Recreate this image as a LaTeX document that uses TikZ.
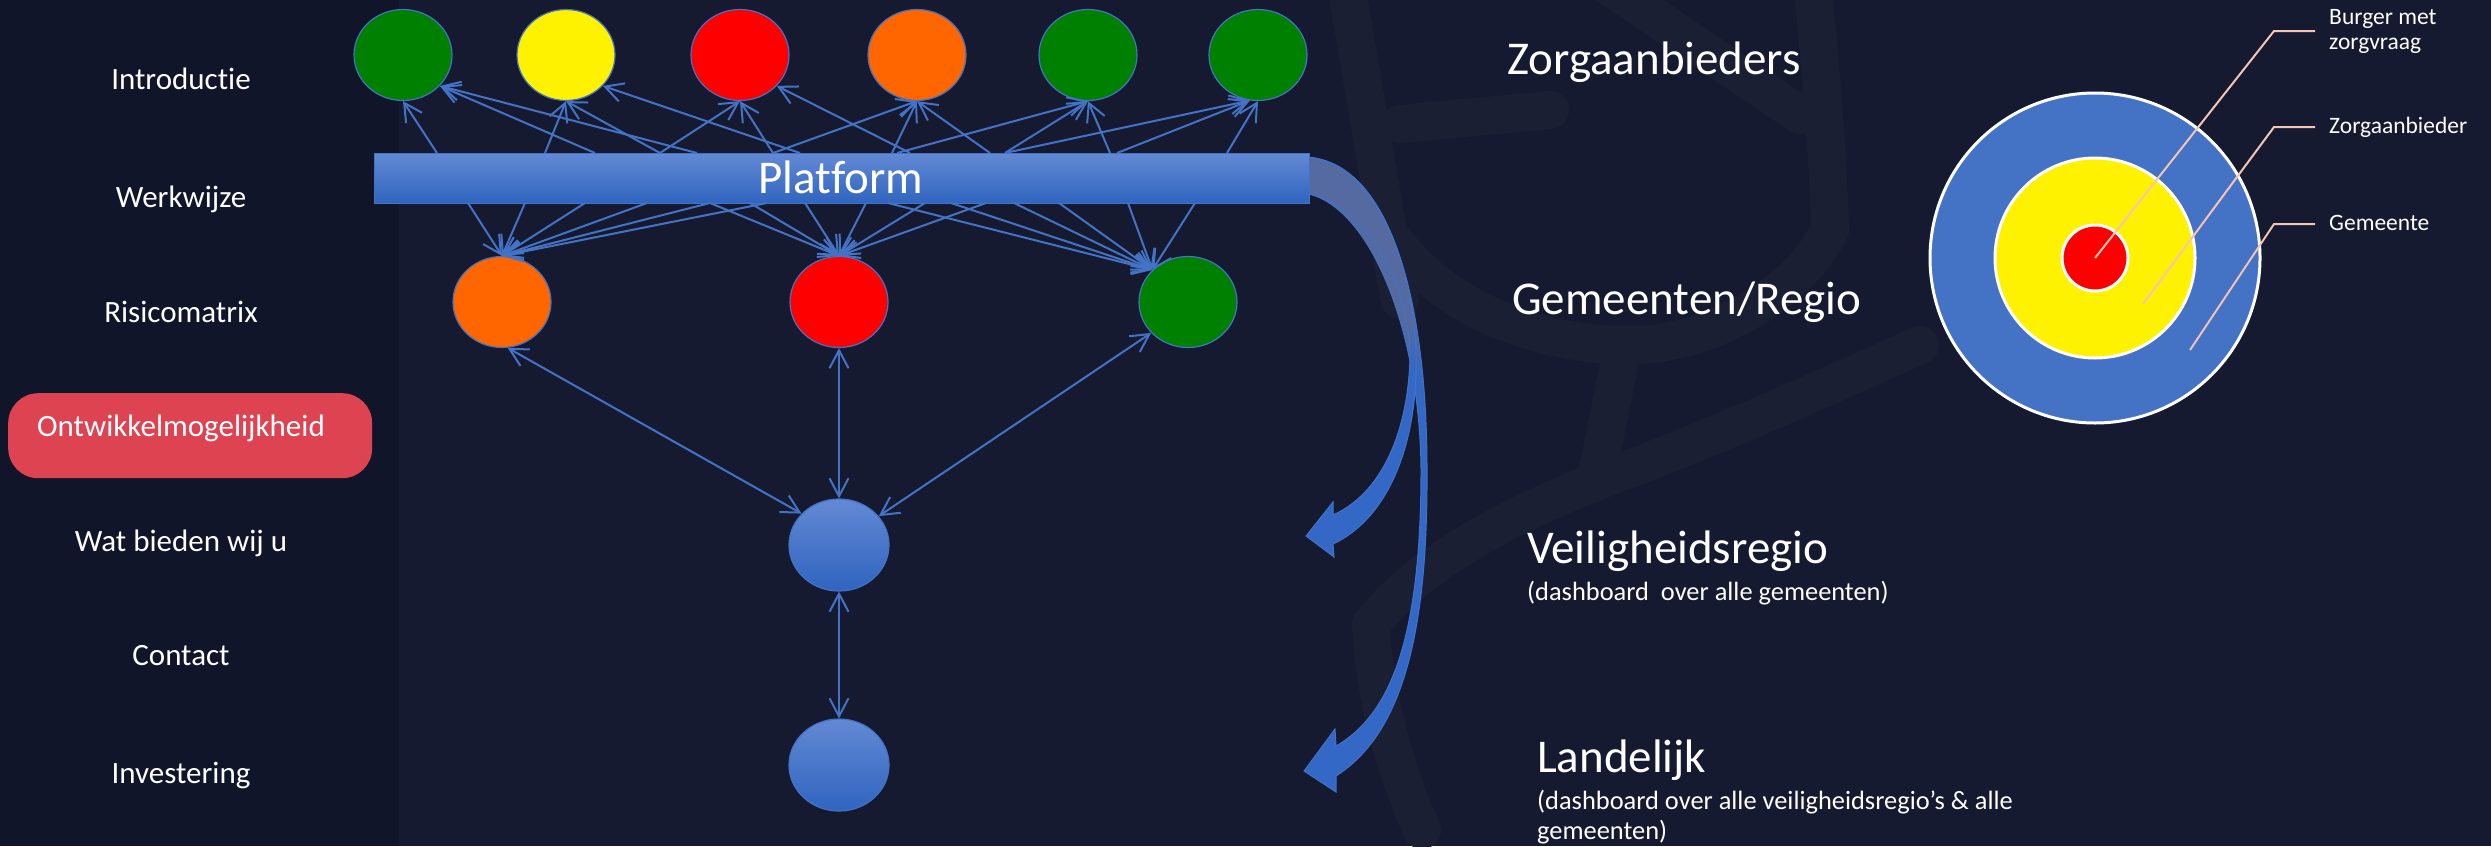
\documentclass[tikz,border=0pt]{standalone}
\usepackage{fontspec}
\setmainfont{Carlito}[Ligatures=NoCommon]
\usetikzlibrary{shapes.geometric,arrows.meta}
\definecolor{bg}{RGB}{21,26,48}
\definecolor{side}{RGB}{16,21,42}
\definecolor{wmark}{RGB}{26,31,52}
\definecolor{lnblue}{RGB}{68,114,196}
\definecolor{dgreen}{RGB}{0,128,0}
\definecolor{orng}{RGB}{255,102,0}
\definecolor{hl}{RGB}{222,67,82}
\definecolor{leader}{RGB}{244,196,180}
\definecolor{gtop}{RGB}{99,137,212}
\definecolor{gbot}{RGB}{47,100,191}
\definecolor{arrblue}{RGB}{52,104,198}
\definecolor{arrgray}{RGB}{84,106,160}
\pgfdeclareverticalshading{arrshA}{100bp}{color(0bp)=(arrblue); color(49bp)=(arrblue); color(54bp)=(arrgray); color(100bp)=(arrgray)}
\pgfdeclareverticalshading{arrshB}{100bp}{color(0bp)=(arrblue); color(58bp)=(arrblue); color(62bp)=(arrgray); color(100bp)=(arrgray)}
\begin{document}
\begin{tikzpicture}[x=1pt,y=-1pt,
  ell/.style={ellipse,draw=lnblue,line width=1.2pt,inner sep=0pt,minimum width=98pt,minimum height=91pt},
  bell/.style={ell,top color=gtop,bottom color=gbot,minimum width=100pt,minimum height=92pt},
  conn/.style={draw=lnblue,line width=2pt,-{Straight Barb[length=18pt,width=19pt]}},
  dconn/.style={draw=lnblue,line width=2pt,{Straight Barb[length=18pt,width=19pt]}-{Straight Barb[length=18pt,width=19pt]}},
  menu/.style={text=white,font=\fontsize{31}{37}\selectfont,anchor=base,inner sep=0pt},
  big/.style={text=white,font=\fontsize{47}{56}\selectfont,anchor=base west,inner sep=0pt},
  small/.style={text=white,font=\fontsize{26.4}{30}\selectfont,anchor=base west,inner sep=0pt},
  lbl/.style={text=white,font=\fontsize{23.5}{26}\selectfont,anchor=base west,inner sep=0pt},
  lead/.style={draw=leader,line width=2pt},
  bigarrow/.style={draw=lnblue,line width=1pt},
  ring/.style={circle,draw=white,line width=3pt,inner sep=0pt},
  wm/.style={draw=wmark,line width=38pt,line cap=round}
]
\path[use as bounding box,fill=bg] (0,0) rectangle (2491,846);

% faint background watermark
\begin{scope}
\clip (400,0) rectangle (2491,846);
\draw[wm] (1345,-20) .. controls (1368,110) and (1385,220) .. (1400,300);
\draw[wm] (1390,235) .. controls (1450,320) and (1560,348) .. (1640,345) .. controls (1720,340) and (1800,290) .. (1830,230);
\draw[wm] (1812,-20) .. controls (1822,80) and (1828,160) .. (1830,230);
\draw[wm] (1600,-20) -- (1800,115);
\draw[wm] (1622,350) -- (1598,470);
\draw[wm] (1371,625) .. controls (1420,560) and (1520,510) .. (1616,474) .. controls (1720,435) and (1820,390) .. (1920,345);
\draw[wm] (1371,625) .. controls (1375,700) and (1395,770) .. (1422,830);
\draw[wm] (1400,124) -- (1550,110);
\end{scope}

\fill[side] (0,0) rectangle (399,846);

% sidebar
\node[fill=hl,rounded corners=30pt,minimum width=364pt,minimum height=85pt,anchor=north west,inner sep=0pt] (hlbox) at (8,393) {};
\node[menu] (s1) at (181,89) {Introductie};
\node[menu] (s2) at (181,207) {Werkwijze};
\node[menu] (s3) at (181,322) {Risicomatrix};
\node[menu] (s4) at (181,436) {Ontwikkelmogelijkheid};
\node[menu] (s5) at (181,551) {Wat bieden wij u};
\node[menu] (s6) at (181,665) {Contact};
\node[menu] (s7) at (181,783) {Investering};

% big curved arrows
\path[bigarrow,shading=arrshB] (1305,157) .. controls (1390,160) and (1427,300) .. (1427,470)
  .. controls (1428,640) and (1400,735) .. (1336,776) -- (1336,792) -- (1304,771) -- (1335,729) -- (1336,746)
  .. controls (1390,715) and (1421,640) .. (1421,470)
  .. controls (1420,330) and (1370,205) .. (1305,193) -- cycle;
\path[bigarrow,shading=arrshA] (1305,157) .. controls (1372,160) and (1414,260) .. (1416,355)
  .. controls (1418,450) and (1385,520) .. (1333,544) -- (1334,557) -- (1306,536) -- (1333,502) -- (1333,515)
  .. controls (1388,490) and (1409,420) .. (1410,355)
  .. controls (1408,280) and (1365,205) .. (1305,193) -- cycle;

% platform
\node[draw=lnblue,line width=1pt,top color=gtop,bottom color=gbot,minimum width=935pt,minimum height=50pt,anchor=north west,inner sep=0pt] (plat) at (374,153) {};
\node[text=white,font=\fontsize{47}{56}\selectfont,anchor=base,inner sep=0pt] (ptext) at (841,193) {Platform};

% ellipses
\node[ell,fill=dgreen] (e1) at (403,55) {};
\node[ell,fill=yellow] (e2) at (566,55) {};
\node[ell,fill=red] (e3) at (740,55) {};
\node[ell,fill=orng] (e4) at (917,55) {};
\node[ell,fill=dgreen] (e5) at (1088,55) {};
\node[ell,fill=dgreen] (e6) at (1258,55) {};
\node[ell,fill=orng] (m1) at (502,302) {};
\node[ell,fill=red] (m2) at (839,302) {};
\node[ell,fill=dgreen] (m3) at (1188,302) {};
\node[bell] (b1) at (839,545) {};
\node[bell] (b2) at (839,765) {};

% platform edge points
\foreach \x in {437,545,595,660,697,773,800,892,897,910,990,1005,1110,1117,1227}
  \coordinate (pt\x) at (\x,153);
\foreach \x in {468,525,585,647,710,750,767,805,866,888,925,951,986,1014,1059,1128,1195}
  \coordinate (pb\x) at (\x,203);

% upward connectors
\foreach \x/\t in {437/e1.south,595/e1.-40,697/e1.-40,
                   545/e2.south,660/e2.south,800/e2.-40,
                   660/e3.south,773/e3.south,910/e3.-40,
                   773/e4.south,892/e4.south,990/e4.south,
                   897/e5.south,1005/e5.south,1110/e5.south,
                   1005/e6.-100,1117/e6.-100,1227/e6.south}
  \draw[conn] (pt\x) -- (\t);

% downward connectors
\foreach \x/\t in {468/m1.north,525/m1.north,585/m1.north,647/m1.north,710/m1.north,767/m1.north,
                   710/m2.north,750/m2.north,805/m2.north,866/m2.north,925/m2.north,986/m2.north,
                   888/m3.138,951/m3.138,1014/m3.138,1059/m3.138,1128/m3.138,1195/m3.138}
  \draw[conn] (pb\x) -- (\t);

% double connectors
\draw[dconn] (m1.-83) -- (b1.140);
\draw[dconn] (m2.south) -- (b1.north);
\draw[dconn] (m3.-140) -- (b1.36);
\draw[dconn] (b1.south) -- (b2.north);

% right texts
\node[big] (tz) at (1507,74) {Zorgaanbieders};
\node[big] (tg) at (1512,314) {Gemeenten/Regio};
\node[big] (tv) at (1527,563) {Veiligheidsregio};
\node[small] (tvs) at (1527,600) {(dashboard\ \ over alle gemeenten)};
\node[big] (tl) at (1537,772) {Landelijk};
\node[small] (tls1) at (1537,809) {(dashboard over alle veiligheidsregio’s \& alle};
\node[small] (tls2) at (1537,839) {gemeenten)};

% target
\node[ring,fill=lnblue,minimum size=330pt] (tgo) at (2095,258) {};
\node[ring,fill=yellow,minimum size=200pt] (tgy) at (2095,258) {};
\node[ring,fill=red,minimum size=66pt] (tgr) at (2095,258) {};
\coordinate (l1a) at (2274,31); \coordinate (l1b) at (2315,31);
\coordinate (l2s) at (2143,304); \coordinate (l2a) at (2274,127); \coordinate (l2b) at (2315,127);
\coordinate (l3s) at (2190,350); \coordinate (l3a) at (2274,224); \coordinate (l3b) at (2315,224);
\draw[lead] (tgr.center) -- (l1a) -- (l1b);
\draw[lead] (l2s) -- (l2a) -- (l2b);
\draw[lead] (l3s) -- (l3a) -- (l3b);
\node[lbl] (lb1) at (2329,24) {Burger met};
\node[lbl] (lb2) at (2329,49) {zorgvraag};
\node[lbl] (lz) at (2329,133) {Zorgaanbieder};
\node[lbl] (lg) at (2329,230) {Gemeente};
\end{tikzpicture}
\end{document}
